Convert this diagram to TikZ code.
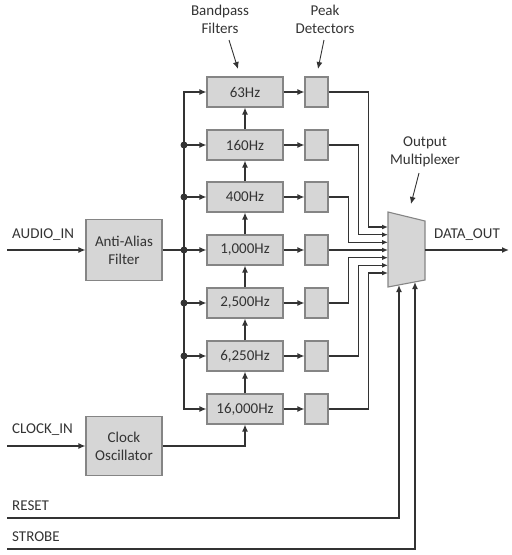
\documentclass[tikz,border=0pt]{standalone}
\usepackage{fontspec}
\setmainfont{Carlito}
\usetikzlibrary{arrows.meta,calc}
\definecolor{boxfill}{HTML}{D6D6D6}
\definecolor{boxline}{HTML}{858585}
\definecolor{wire}{HTML}{333333}
\begin{document}
\begin{tikzpicture}[x=1pt,y=-1pt,
  every node/.style={font=\fontsize{15}{18}\selectfont, text=wire, inner sep=0pt},
  blk/.style={draw=boxline, fill=boxfill, line width=1.1pt, minimum height=30pt},
  filt/.style={blk, minimum width=76pt},
  det/.style={blk, minimum width=23pt},
  big/.style={blk, minimum width=76pt, align=center},
  wireline/.style={draw=wire, line width=1.3pt},
  arr/.style={wireline, -{Latex[length=7pt,width=6pt]}},
  sarr/.style={wireline, -{Latex[length=6pt,width=5pt]}},
  note/.style={draw=wire, line width=0.9pt, -{Latex[length=7pt,width=6pt]}},
  lbl/.style={align=center},
  dot/.style={circle, fill=wire, minimum size=7pt, inner sep=0pt}
]
\useasboundingbox (0,0) rectangle (512,555);

% filters and detectors
\foreach \i/\y/\t in {1/92/63Hz,2/145/160Hz,3/197/400Hz,4/250/{1,000Hz},5/303/{2,500Hz},6/356/{6,250Hz},7/409/{16,000Hz}}{
  \node[filt] (f\i) at (245,\y) {\t};
  \node[det] (d\i) at (316.5,\y) {};
  \draw[arr] (f\i.east) -- (d\i.west);
}

\node[big, minimum height=61pt] (aa) at (124,250) {Anti-Alias\\Filter};
\node[big, minimum height=59pt] (osc) at (124,446) {Clock\\Oscillator};

% multiplexer
\coordinate (mtl) at (388,212);
\coordinate (mtr) at (425,221);
\coordinate (mbr) at (425,280);
\coordinate (mbl) at (388,287);
\draw[draw=boxline, fill=boxfill, line width=1.1pt] (mtl) -- (mtr) -- (mbr) -- (mbl) -- cycle;
\foreach \i/\y in {1/227,2/234.7,3/242.3,4/250,5/257.7,6/265.3,7/273}{
  \coordinate (m\i) at (388,\y);
}
\coordinate (mout) at (425,250);
\coordinate (msa) at (399,285);
\coordinate (msb) at (415,282);

% detector outputs to mux
\draw[sarr] (d1.east) -- ++(40,0) |- (m1);
\draw[sarr] (d2.east) -- ++(30,0) |- (m2);
\draw[sarr] (d3.east) -- ++(20,0) |- (m3);
\draw[sarr] (d4.east) -- (m4);
\draw[sarr] (d5.east) -- ++(20,0) |- (m5);
\draw[sarr] (d6.east) -- ++(30,0) |- (m6);
\draw[sarr] (d7.east) -- ++(40,0) |- (m7);

% bus
\coordinate (j4) at (184,250);
\draw[wireline] (aa.east) -- (j4);
\draw[arr] (j4) -- (f4.west);
\draw[arr] (j4) |- (f1.west);
\draw[arr] (j4) |- (f7.west);
\foreach \i/\y in {2/145,3/197,5/303,6/356}{
  \coordinate (j\i) at (184,\y);
  \draw[arr] (j\i) -- (f\i.west);
  \node[dot] at (j\i) {};
}
\node[dot] at (j4) {};

% vertical chain
\draw[arr] (f7.north) -- (f6.south);
\draw[arr] (f6.north) -- (f5.south);
\draw[arr] (f5.north) -- (f4.south);
\draw[arr] (f4.north) -- (f3.south);
\draw[arr] (f3.north) -- (f2.south);
\draw[arr] (f2.north) -- (f1.south);
\draw[arr] (osc.east) -| (f7.south);

% inputs
\coordinate (ain) at (7,250);
\coordinate (cin) at (7,446);
\coordinate (rst) at (7,518);
\coordinate (stb) at (7,549);
\draw[arr] (ain) -- (aa.west);
\draw[arr] (cin) -- (osc.west);
\draw[arr] (rst) -| (msa);
\draw[arr] (stb) -| (msb);
\coordinate (dout) at (509,250);
\draw[arr] (mout) -- (dout);

\node[anchor=west] (lain) at (12,235) {AUDIO\_IN};
\node[anchor=west] (lcin) at (12,430) {CLOCK\_IN};
\node[anchor=west] (lrst) at (12,506) {RESET};
\node[anchor=west] (lstb) at (12,537) {STROBE};
\node (ldout) at (467,235) {DATA\_OUT};

% annotations
\node[lbl] (nbp) at (220,19) {Bandpass\\Filters};
\node[lbl] (npd) at (325,19) {Peak\\Detectors};
\node[lbl] (nom) at (425,152) {Output\\Multiplexer};
\coordinate (abp) at (238,69);
\coordinate (apd) at (318,69);
\coordinate (aom) at (411,204);
\draw[note] (229,40) -- (abp);
\draw[note] (324,40) -- (apd);
\draw[note] (419,173) -- (aom);
\end{tikzpicture}
\end{document}
